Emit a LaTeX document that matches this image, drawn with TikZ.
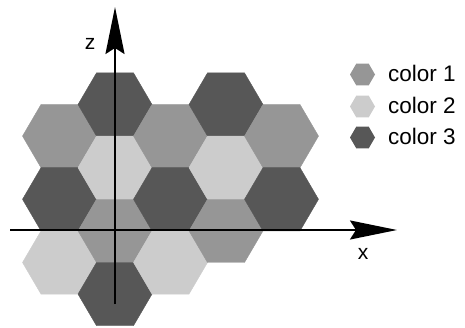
\documentclass[tikz,border=0pt]{standalone}
\usepackage{fontspec}
\setmainfont{Liberation Sans}
\usetikzlibrary{arrows.meta}
\definecolor{colorone}{gray}{0.59}
\definecolor{colortwo}{gray}{0.80}
\definecolor{colorthree}{gray}{0.34}

\begin{document}
\begin{tikzpicture}[x=1pt,y=-1pt,
    axis/.style={line width=2pt,-{Stealth[length=47pt,width=19pt,inset=6pt]}},
    axislabel/.style={inner sep=0pt,font=\fontsize{21}{21}\selectfont},
    legendtext/.style={anchor=base west,inner sep=0pt,font=\fontsize{22.5}{22.5}\selectfont}]
  \useasboundingbox (0,0) rectangle (465,328);
  % honeycomb
  \foreach \cx/\cy/\col in {59.5/136.1/colorone, 59.5/199.3/colorthree, 59.5/262.5/colortwo,
      115/104.5/colorthree, 115/167.7/colortwo, 115/230.9/colorone, 115/294.1/colorthree,
      170.5/136.1/colorone, 170.5/199.3/colorthree, 170.5/262.5/colortwo,
      226/104.5/colorthree, 226/167.7/colortwo, 226/230.9/colorone,
      281.5/136.1/colorone, 281.5/199.3/colorthree}
    \fill[\col,draw=\col,line width=0.4pt] (\cx,\cy) ++(-37,0) -- ++(18.5,-31.6) -- ++(37,0)
      -- ++(18.5,31.6) -- ++(-18.5,31.6) -- ++(-37,0) -- cycle;
  % axes
  \coordinate (zbot) at (115,304);
  \coordinate (ztop) at (115,7);
  \coordinate (xleft) at (10,230);
  \coordinate (xright) at (397,230);
  \draw[axis] (zbot) -- (ztop);
  \draw[axis] (xleft) -- (xright);
  \node[axislabel] (zlab) at (90,44) {z};
  \node[axislabel] (xlab) at (363,253.5) {x};
  % legend
  \foreach \i/\col/\yy in {1/colorone/74.5, 2/colortwo/106.5, 3/colorthree/137.5} {
    \fill[\col] (362.5,\yy) ++(-12.5,0) -- ++(6.25,-10.8) -- ++(12.5,0)
      -- ++(6.25,10.8) -- ++(-6.25,10.8) -- ++(-12.5,0) -- cycle;
    \node[legendtext] (leg\i) at (388,\yy+7.2) {color \i};
  }
\end{tikzpicture}
\end{document}
